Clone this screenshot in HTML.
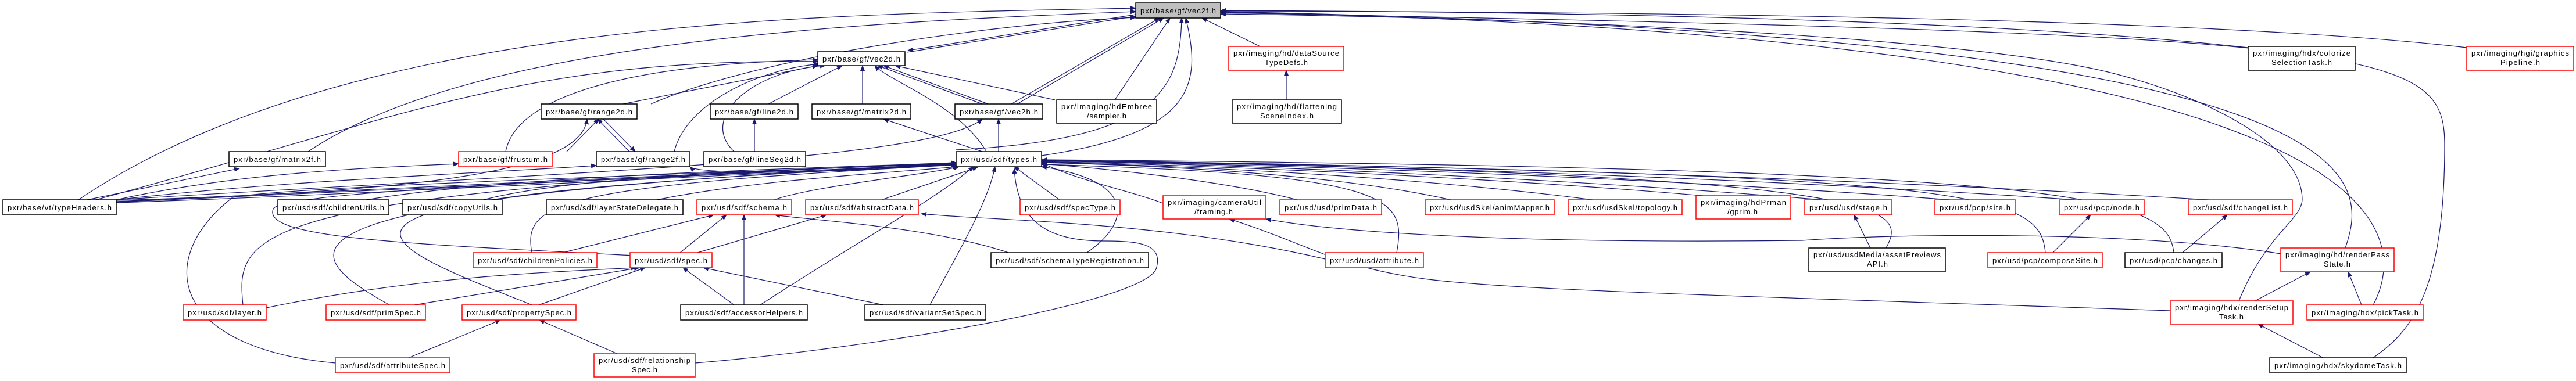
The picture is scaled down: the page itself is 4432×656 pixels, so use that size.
<!DOCTYPE html>
<html><head><meta charset="utf-8"><style>
html,body{margin:0;padding:0;background:#fff;}
svg{display:block;}
text{font-family:"Liberation Sans",sans-serif;font-size:13px;fill:#000;}
</style></head><body>
<svg width="4432" height="656" viewBox="0 0 4432 656" xmlns="http://www.w3.org/2000/svg">
<defs>
<marker id="a" markerWidth="10" markerHeight="8" refX="9" refY="4" orient="auto" markerUnits="userSpaceOnUse">
<path d="M0,0 L10,4 L0,8 z" fill="#191970"/></marker>
</defs>
<g fill="none" stroke="#191970" stroke-width="1.2" marker-end="url(#a)">
<path d="M1560,90 L1954,28"/>
<path d="M1954,25 L1562,87"/>
<path d="M1120,179 C1300,100 1700,40 1954,30"/>
<path d="M135,344 C600,30 1400,25 1954,14"/>
<path d="M530,261 C800,80 1400,40 1954,20"/>
<path d="M1740,179 L1995,31"/>
<path d="M1750,179 L2002,31"/>
<path d="M1918,172 L2013,31"/>
<path d="M1645,258 C2000,240 2030,150 2033,31"/>
<path d="M1792,268 C2050,230 2070,150 2040,31"/>
<path d="M2168,80 L2068,31"/>
<path d="M3868,82 C3400,30 2600,20 2100,18"/>
<path d="M4244,82 C3800,30 2800,20 2100,19"/>
<path d="M4035,427 C4080,300 4090,60 2100,20"/>
<path d="M4083,525 C4150,400 4140,60 2100,21"/>
<path d="M4083,616 C4150,570 4206,500 4206,250 C4206,80 4100,60 2100,22"/>
<path d="M3852,518 C3900,400 3960,380 3961,343 C3960,250 3800,170 3650,130 C3400,60 2600,30 2100,24"/>
<path d="M165,344 C700,200 900,100 1407,106"/>
<path d="M870,261 C890,160 1100,110 1407,103"/>
<path d="M1160,261 C1180,180 1300,120 1410,110"/>
<path d="M1263,261 C1200,200 1300,120 1420,113"/>
<path d="M1072,179 L1407,113"/>
<path d="M1322,179 L1449,113"/>
<path d="M1484,179 L1484,113"/>
<path d="M1690,179 L1510,113"/>
<path d="M1700,179 L1520,113"/>
<path d="M1815,172 L1540,113"/>
<path d="M1697,261 C1650,180 1530,140 1505,113"/>
<path d="M1690,261 L1520,205"/>
<path d="M1718,261 L1718,205"/>
<path d="M200,344 C900,300 1600,280 1690,205"/>
<path d="M150,344 L412,290"/>
<path d="M200,344 C400,300 600,290 789,282"/>
<path d="M200,344 C500,310 800,300 1026,285"/>
<path d="M200,345 C700,330 1000,300 1010,205"/>
<path d="M975,261 L1030,205"/>
<path d="M1083,261 L1028,205"/>
<path d="M1038,205 L1093,261"/>
<path d="M1298,261 L1298,205"/>
<path d="M200,347 C600,330 1250,295 1645,280"/>
<path d="M200,348 C600,332 1250,298 1645,282"/>
<path d="M200,349 C600,336 1250,300 1645,284"/>
<path d="M1645,283 C1400,300 1200,300 1187,287"/>
<path d="M630,344 C900,300 1400,290 1645,280"/>
<path d="M832,344 C1000,300 1400,290 1645,282"/>
<path d="M1130,344 C1300,310 1500,300 1648,287"/>
<path d="M1332,344 C1400,320 1600,300 1650,287"/>
<path d="M1517,344 L1682,288"/>
<path d="M1823,344 L1745,287"/>
<path d="M915,435 C900,350 950,320 1645,284"/>
<path d="M1090,440 C700,420 450,410 470,360 C480,330 1000,310 1645,283"/>
<path d="M418,525 C405,400 420,330 1645,280"/>
<path d="M670,525 C500,430 420,340 1645,282"/>
<path d="M915,525 C600,400 440,340 1645,283"/>
<path d="M577,625 C300,600 260,450 400,340 C500,320 1200,300 1645,281"/>
<path d="M1196,625 C1500,600 1980,520 1990,460 C2000,420 1960,415 1900,415 C1800,415 1750,380 1745,290"/>
<path d="M1308,525 C1500,400 1600,350 1675,287"/>
<path d="M1600,525 C1640,450 1700,350 1712,287"/>
<path d="M1870,435 C1950,380 1950,310 1792,287"/>
<path d="M2001,350 C1950,330 1850,310 1792,280"/>
<path d="M2232,344 C2100,310 1900,290 1792,282"/>
<path d="M2496,344 C2300,300 2000,285 1792,280"/>
<path d="M2740,344 C2400,300 2000,285 1792,279"/>
<path d="M2930,337 C2500,300 2000,283 1792,278"/>
<path d="M3135,344 C2600,300 2000,280 1792,277"/>
<path d="M3355,344 C2700,295 2000,280 1792,277"/>
<path d="M3570,344 C2800,292 2000,279 1792,276"/>
<path d="M3800,344 C2900,290 2000,278 1792,276"/>
<path d="M3245,427 C3280,360 3290,300 1792,276"/>
<path d="M3519,435 C3510,330 3400,300 1792,276"/>
<path d="M3740,435 C3730,340 3600,290 1792,275"/>
<path d="M2403,435 C2420,340 2400,300 1792,283"/>
<path d="M968,435 L1228,370"/>
<path d="M1170,435 L1250,370"/>
<path d="M1280,525 L1280,370"/>
<path d="M1735,435 C1600,390 1400,380 1333,370"/>
<path d="M1200,435 L1422,370"/>
<path d="M2280,446 C2000,380 1700,380 1585,368"/>
<path d="M458,530 C700,480 900,470 1095,461"/>
<path d="M713,525 L1100,461"/>
<path d="M927,525 L1110,461"/>
<path d="M1263,525 L1175,461"/>
<path d="M1520,525 L1210,461"/>
<path d="M703,616 L861,551"/>
<path d="M1062,609 L928,551"/>
<path d="M2213,172 L2213,121"/>
<path d="M3734,535 C3000,510 2600,500 2450,480 C2300,460 2250,420 2115,377"/>
<path d="M3924,437 C3700,400 3300,400 3100,414 C2600,420 2300,400 2178,377"/>
<path d="M3218,427 L3190,370"/>
<path d="M3532,435 L3597,370"/>
<path d="M3755,435 L3832,370"/>
<path d="M3880,518 L3975,468"/>
<path d="M4063,525 L4040,468"/>
<path d="M3997,616 L3885,558"/>
</g>
<g stroke-width="1.5">
<rect x="1954" y="5" width="146" height="26" fill="#bfbfbf" stroke="#000"/><text x="1962" y="23" textLength="130">pxr/base/gf/vec2f.h</text>
<rect x="1407" y="89" width="150" height="24" fill="#fff" stroke="#000"/><text x="1415" y="106" textLength="134">pxr/base/gf/vec2d.h</text>
<rect x="931" y="179" width="165" height="26" fill="#fff" stroke="#000"/><text x="939" y="197" textLength="149">pxr/base/gf/range2d.h</text>
<rect x="1222" y="179" width="151" height="26" fill="#fff" stroke="#000"/><text x="1230" y="197" textLength="135">pxr/base/gf/line2d.h</text>
<rect x="1397" y="179" width="170" height="26" fill="#fff" stroke="#000"/><text x="1405" y="197" textLength="154">pxr/base/gf/matrix2d.h</text>
<rect x="1643" y="179" width="151" height="26" fill="#fff" stroke="#000"/><text x="1651" y="197" textLength="135">pxr/base/gf/vec2h.h</text>
<rect x="1818" y="172" width="172" height="40" fill="#fff" stroke="#000"/><text x="1826" y="188" textLength="156">pxr/imaging/hdEmbree</text><text x="1870" y="204" textLength="68">/sampler.h</text>
<rect x="2114" y="80" width="198" height="41" fill="#fff" stroke="#f00"/><text x="2122" y="96" textLength="182">pxr/imaging/hd/dataSource</text><text x="2176" y="112" textLength="74">TypeDefs.h</text>
<rect x="2120" y="172" width="188" height="40" fill="#fff" stroke="#000"/><text x="2128" y="188" textLength="172">pxr/imaging/hd/flattening</text><text x="2168" y="204" textLength="92">SceneIndex.h</text>
<rect x="3868" y="80" width="184" height="41" fill="#fff" stroke="#000"/><text x="3876" y="96" textLength="168">pxr/imaging/hdx/colorize</text><text x="3908" y="112" textLength="104">SelectionTask.h</text>
<rect x="4244" y="80" width="184" height="41" fill="#fff" stroke="#f00"/><text x="4252" y="96" textLength="168">pxr/imaging/hgi/graphics</text><text x="4302" y="112" textLength="68">Pipeline.h</text>
<rect x="394" y="261" width="166" height="26" fill="#fff" stroke="#000"/><text x="402" y="279" textLength="150">pxr/base/gf/matrix2f.h</text>
<rect x="789" y="261" width="161" height="26" fill="#fff" stroke="#f00"/><text x="797" y="279" textLength="145">pxr/base/gf/frustum.h</text>
<rect x="1026" y="261" width="161" height="26" fill="#fff" stroke="#000"/><text x="1034" y="279" textLength="145">pxr/base/gf/range2f.h</text>
<rect x="1211" y="261" width="175" height="26" fill="#fff" stroke="#000"/><text x="1219" y="279" textLength="159">pxr/base/gf/lineSeg2d.h</text>
<rect x="1645" y="261" width="147" height="26" fill="#fff" stroke="#000"/><text x="1653" y="279" textLength="131">pxr/usd/sdf/types.h</text>
<rect x="5" y="344" width="195" height="26" fill="#fff" stroke="#000"/><text x="13" y="362" textLength="179">pxr/base/vt/typeHeaders.h</text>
<rect x="478" y="344" width="191" height="26" fill="#fff" stroke="#000"/><text x="486" y="362" textLength="175">pxr/usd/sdf/childrenUtils.h</text>
<rect x="693" y="344" width="171" height="26" fill="#fff" stroke="#000"/><text x="701" y="362" textLength="155">pxr/usd/sdf/copyUtils.h</text>
<rect x="940" y="344" width="235" height="26" fill="#fff" stroke="#000"/><text x="948" y="362" textLength="219">pxr/usd/sdf/layerStateDelegate.h</text>
<rect x="1199" y="344" width="163" height="26" fill="#fff" stroke="#f00"/><text x="1207" y="362" textLength="147">pxr/usd/sdf/schema.h</text>
<rect x="1386" y="344" width="194" height="26" fill="#fff" stroke="#f00"/><text x="1394" y="362" textLength="178">pxr/usd/sdf/abstractData.h</text>
<rect x="1755" y="344" width="172" height="26" fill="#fff" stroke="#f00"/><text x="1763" y="362" textLength="156">pxr/usd/sdf/specType.h</text>
<rect x="2001" y="337" width="177" height="40" fill="#fff" stroke="#f00"/><text x="2009" y="353" textLength="161">pxr/imaging/cameraUtil</text><text x="2055" y="369" textLength="66">/framing.h</text>
<rect x="2202" y="344" width="175" height="26" fill="#fff" stroke="#f00"/><text x="2210" y="362" textLength="159">pxr/usd/usd/primData.h</text>
<rect x="2452" y="344" width="222" height="26" fill="#fff" stroke="#f00"/><text x="2460" y="362" textLength="206">pxr/usd/usdSkel/animMapper.h</text>
<rect x="2698" y="344" width="196" height="26" fill="#fff" stroke="#f00"/><text x="2706" y="362" textLength="180">pxr/usd/usdSkel/topology.h</text>
<rect x="2918" y="337" width="163" height="40" fill="#fff" stroke="#f00"/><text x="2926" y="353" textLength="147">pxr/imaging/hdPrman</text><text x="2972" y="369" textLength="52">/gprim.h</text>
<rect x="3105" y="344" width="150" height="26" fill="#fff" stroke="#f00"/><text x="3113" y="362" textLength="134">pxr/usd/usd/stage.h</text>
<rect x="3329" y="344" width="138" height="26" fill="#fff" stroke="#f00"/><text x="3337" y="362" textLength="122">pxr/usd/pcp/site.h</text>
<rect x="3543" y="344" width="146" height="26" fill="#fff" stroke="#f00"/><text x="3551" y="362" textLength="130">pxr/usd/pcp/node.h</text>
<rect x="3765" y="344" width="179" height="26" fill="#fff" stroke="#f00"/><text x="3773" y="362" textLength="163">pxr/usd/sdf/changeList.h</text>
<rect x="814" y="435" width="213" height="26" fill="#fff" stroke="#f00"/><text x="822" y="453" textLength="197">pxr/usd/sdf/childrenPolicies.h</text>
<rect x="1084" y="435" width="141" height="26" fill="#fff" stroke="#f00"/><text x="1092" y="453" textLength="125">pxr/usd/sdf/spec.h</text>
<rect x="1705" y="435" width="271" height="26" fill="#fff" stroke="#000"/><text x="1713" y="453" textLength="255">pxr/usd/sdf/schemaTypeRegistration.h</text>
<rect x="2280" y="435" width="169" height="26" fill="#fff" stroke="#f00"/><text x="2288" y="453" textLength="153">pxr/usd/usd/attribute.h</text>
<rect x="3112" y="427" width="235" height="41" fill="#fff" stroke="#000"/><text x="3120" y="443" textLength="219">pxr/usd/usdMedia/assetPreviews</text><text x="3212" y="459" textLength="36">API.h</text>
<rect x="3420" y="435" width="197" height="26" fill="#fff" stroke="#f00"/><text x="3428" y="453" textLength="181">pxr/usd/pcp/composeSite.h</text>
<rect x="3656" y="435" width="167" height="26" fill="#fff" stroke="#000"/><text x="3664" y="453" textLength="151">pxr/usd/pcp/changes.h</text>
<rect x="3924" y="427" width="195" height="41" fill="#fff" stroke="#f00"/><text x="3932" y="443" textLength="179">pxr/imaging/hd/renderPass</text><text x="3998" y="459" textLength="46">State.h</text>
<rect x="315" y="525" width="143" height="26" fill="#fff" stroke="#f00"/><text x="323" y="543" textLength="127">pxr/usd/sdf/layer.h</text>
<rect x="561" y="525" width="171" height="26" fill="#fff" stroke="#f00"/><text x="569" y="543" textLength="155">pxr/usd/sdf/primSpec.h</text>
<rect x="795" y="525" width="196" height="26" fill="#fff" stroke="#f00"/><text x="803" y="543" textLength="180">pxr/usd/sdf/propertySpec.h</text>
<rect x="1171" y="525" width="218" height="26" fill="#fff" stroke="#000"/><text x="1179" y="543" textLength="202">pxr/usd/sdf/accessorHelpers.h</text>
<rect x="1488" y="525" width="208" height="26" fill="#fff" stroke="#000"/><text x="1496" y="543" textLength="192">pxr/usd/sdf/variantSetSpec.h</text>
<rect x="3734" y="518" width="211" height="40" fill="#fff" stroke="#f00"/><text x="3742" y="534" textLength="195">pxr/imaging/hdx/renderSetup</text><text x="3818" y="550" textLength="42">Task.h</text>
<rect x="3969" y="525" width="200" height="26" fill="#fff" stroke="#f00"/><text x="3977" y="543" textLength="184">pxr/imaging/hdx/pickTask.h</text>
<rect x="577" y="616" width="197" height="26" fill="#fff" stroke="#f00"/><text x="585" y="634" textLength="181">pxr/usd/sdf/attributeSpec.h</text>
<rect x="1022" y="609" width="174" height="40" fill="#fff" stroke="#f00"/><text x="1030" y="625" textLength="158">pxr/usd/sdf/relationship</text><text x="1087" y="641" textLength="44">Spec.h</text>
<rect x="3905" y="616" width="235" height="26" fill="#fff" stroke="#000"/><text x="3913" y="634" textLength="219">pxr/imaging/hdx/skydomeTask.h</text>
</g>
</svg>
</body></html>
